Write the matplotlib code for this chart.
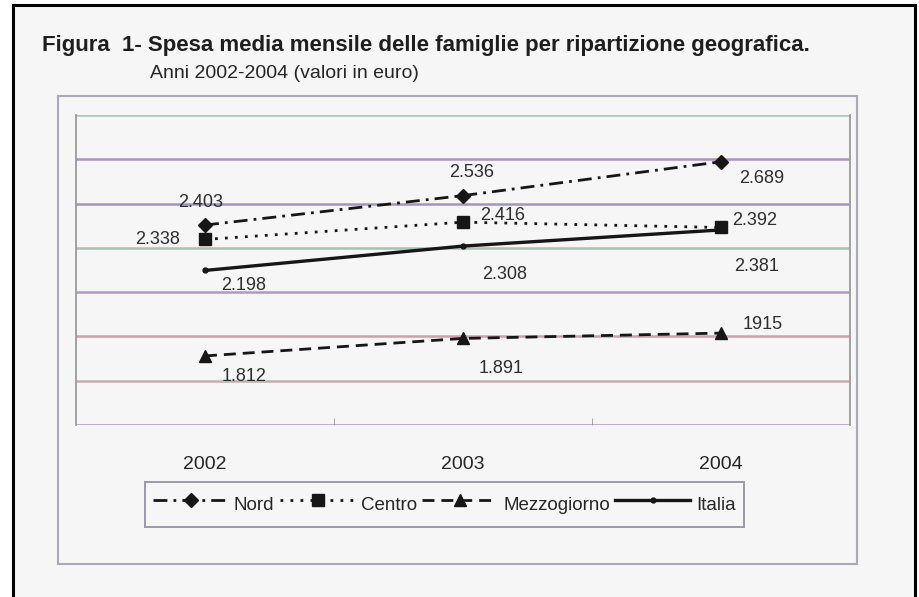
import matplotlib.pyplot as plt
from matplotlib.patches import Rectangle

# Spesa media mensile delle famiglie (euro)
anni = ['2002', '2003', '2004']
nord = [2403, 2536, 2689]
centro = [2338, 2416, 2392]
mezzogiorno = [1812, 1891, 1915]
italia = [2198, 2308, 2381]

# etichette come stampate sul grafico
lab_nord = ['2.403', '2.536', '2.689']
lab_centro = ['2.338', '2.416', '2.392']
lab_mezzogiorno = ['1.812', '1.891', '1915']
lab_italia = ['2.198', '2.308', '2.381']

W, H = 919, 597
plt.rcParams['font.family'] = ['Liberation Sans', 'DejaVu Sans']


def fx(x):
    return x / W


def fy(y):
    return 1 - y / H


fig = plt.figure(figsize=(W / 100, H / 100), dpi=100)
fig.patch.set_facecolor('white')

# cornice nera della pagina
fig.add_artist(Rectangle((fx(13), fy(620)), fx(915) - fx(13), fy(5) - fy(620),
                         transform=fig.transFigure, facecolor='#f7f6f6',
                         edgecolor='black', lw=2.2, zorder=0))
# riquadro grigio attorno al grafico
fig.add_artist(Rectangle((fx(58), fy(564)), fx(857) - fx(58), fy(96) - fy(564),
                         transform=fig.transFigure, facecolor='none',
                         edgecolor='#aaaab6', lw=1.5, zorder=1))

fig.text(fx(42), fy(45), 'Figura  1- Spesa media mensile delle famiglie per ripartizione geografica.',
         fontsize=16, fontweight='bold', color='#1e1e1e', va='center', ha='left')
fig.text(fx(150), fy(73), 'Anni 2002-2004 (valori in euro)',
         fontsize=14, color='#262626', va='center', ha='left')

ax = fig.add_axes([fx(76), fy(425), fx(850) - fx(76), fy(115) - fy(425)])
ax.set_facecolor('none')
x = list(range(len(anni)))

# griglia orizzontale ogni 200 euro
griglia = [1500, 1700, 1900, 2100, 2300, 2500, 2700, 2900]
col_griglia = ['#a99ac4', '#c4b0a8', '#cfa0ac', '#ae9cc0', '#a6c3b4', '#a591c2', '#a894c0', '#a9c6c8']
for g, c in zip(griglia, col_griglia):
    ax.axhline(g, color=c, lw=1.8, zorder=1)

nero = '#161616'
ln_nord, = ax.plot(x, nord, color=nero, lw=2, ls=(0, (5, 2.2, 1, 2.2)),
                   marker='D', ms=7, label='Nord', zorder=4)
ln_centro, = ax.plot(x, centro, color=nero, lw=2, ls=(0, (1, 2.6)),
                     marker='s', ms=9, label='Centro', zorder=4)
ln_mezz, = ax.plot(x, mezzogiorno, color=nero, lw=2, ls=(0, (4.3, 2.5)),
                   marker='^', ms=9, label='Mezzogiorno', zorder=4)
ln_italia, = ax.plot(x, italia, color=nero, lw=2.4, ls='-',
                     marker='o', ms=3.5, label='Italia', zorder=3)

# scostamenti delle etichette (pixel)
off_nord = [(-4, 23), (9, 23), (41, -17)]
off_centro = [(-47, 0), (40, 7), (34, 7)]
off_mezz = [(39, -21), (38, -30), (42, 9)]
off_italia = [(39, -15), (42, -28), (36, -37)]

for vals, labs, offs in [(nord, lab_nord, off_nord), (centro, lab_centro, off_centro),
                         (mezzogiorno, lab_mezzogiorno, off_mezz), (italia, lab_italia, off_italia)]:
    for xi, v, t, o in zip(x, vals, labs, offs):
        ax.annotate(t, (xi, v), xytext=o, textcoords='offset pixels',
                    ha='center', va='center', fontsize=13, color='#2e2e2e', zorder=5)

ax.set_xlim(-0.5, 2.5)
ax.set_ylim(1500, 2900)
ax.set_yticks([])
ax.set_xticks(x)
ax.set_xticklabels(anni, fontsize=14, color='#262626')
ax.tick_params(axis='x', length=0, pad=22)
ax.set_xticks([0.5, 1.5], minor=True)
ax.tick_params(axis='x', which='minor', direction='in', length=5, color='#999999')
for s in ['top', 'bottom']:
    ax.spines[s].set_visible(False)
for s in ['left', 'right']:
    ax.spines[s].set_color('#9b9b9b')
    ax.spines[s].set_linewidth(1.3)

leg = fig.legend(handles=[ln_nord, ln_centro, ln_mezz, ln_italia], loc='center',
                 bbox_to_anchor=(fx(444.5), fy(504.5)), ncol=4, fontsize=13.5,
                 handlelength=4, handletextpad=0.3, columnspacing=0.3,
                 borderpad=0.45, handleheight=2.0, fancybox=False,
                 frameon=True, framealpha=1)
leg.get_frame().set_facecolor('#f7f6f6')
leg.get_frame().set_edgecolor('#9a9aaa')
leg.get_frame().set_linewidth(1.4)
for t in leg.get_texts():
    t.set_color('#262626')

fig.savefig('out.png', dpi=100)
